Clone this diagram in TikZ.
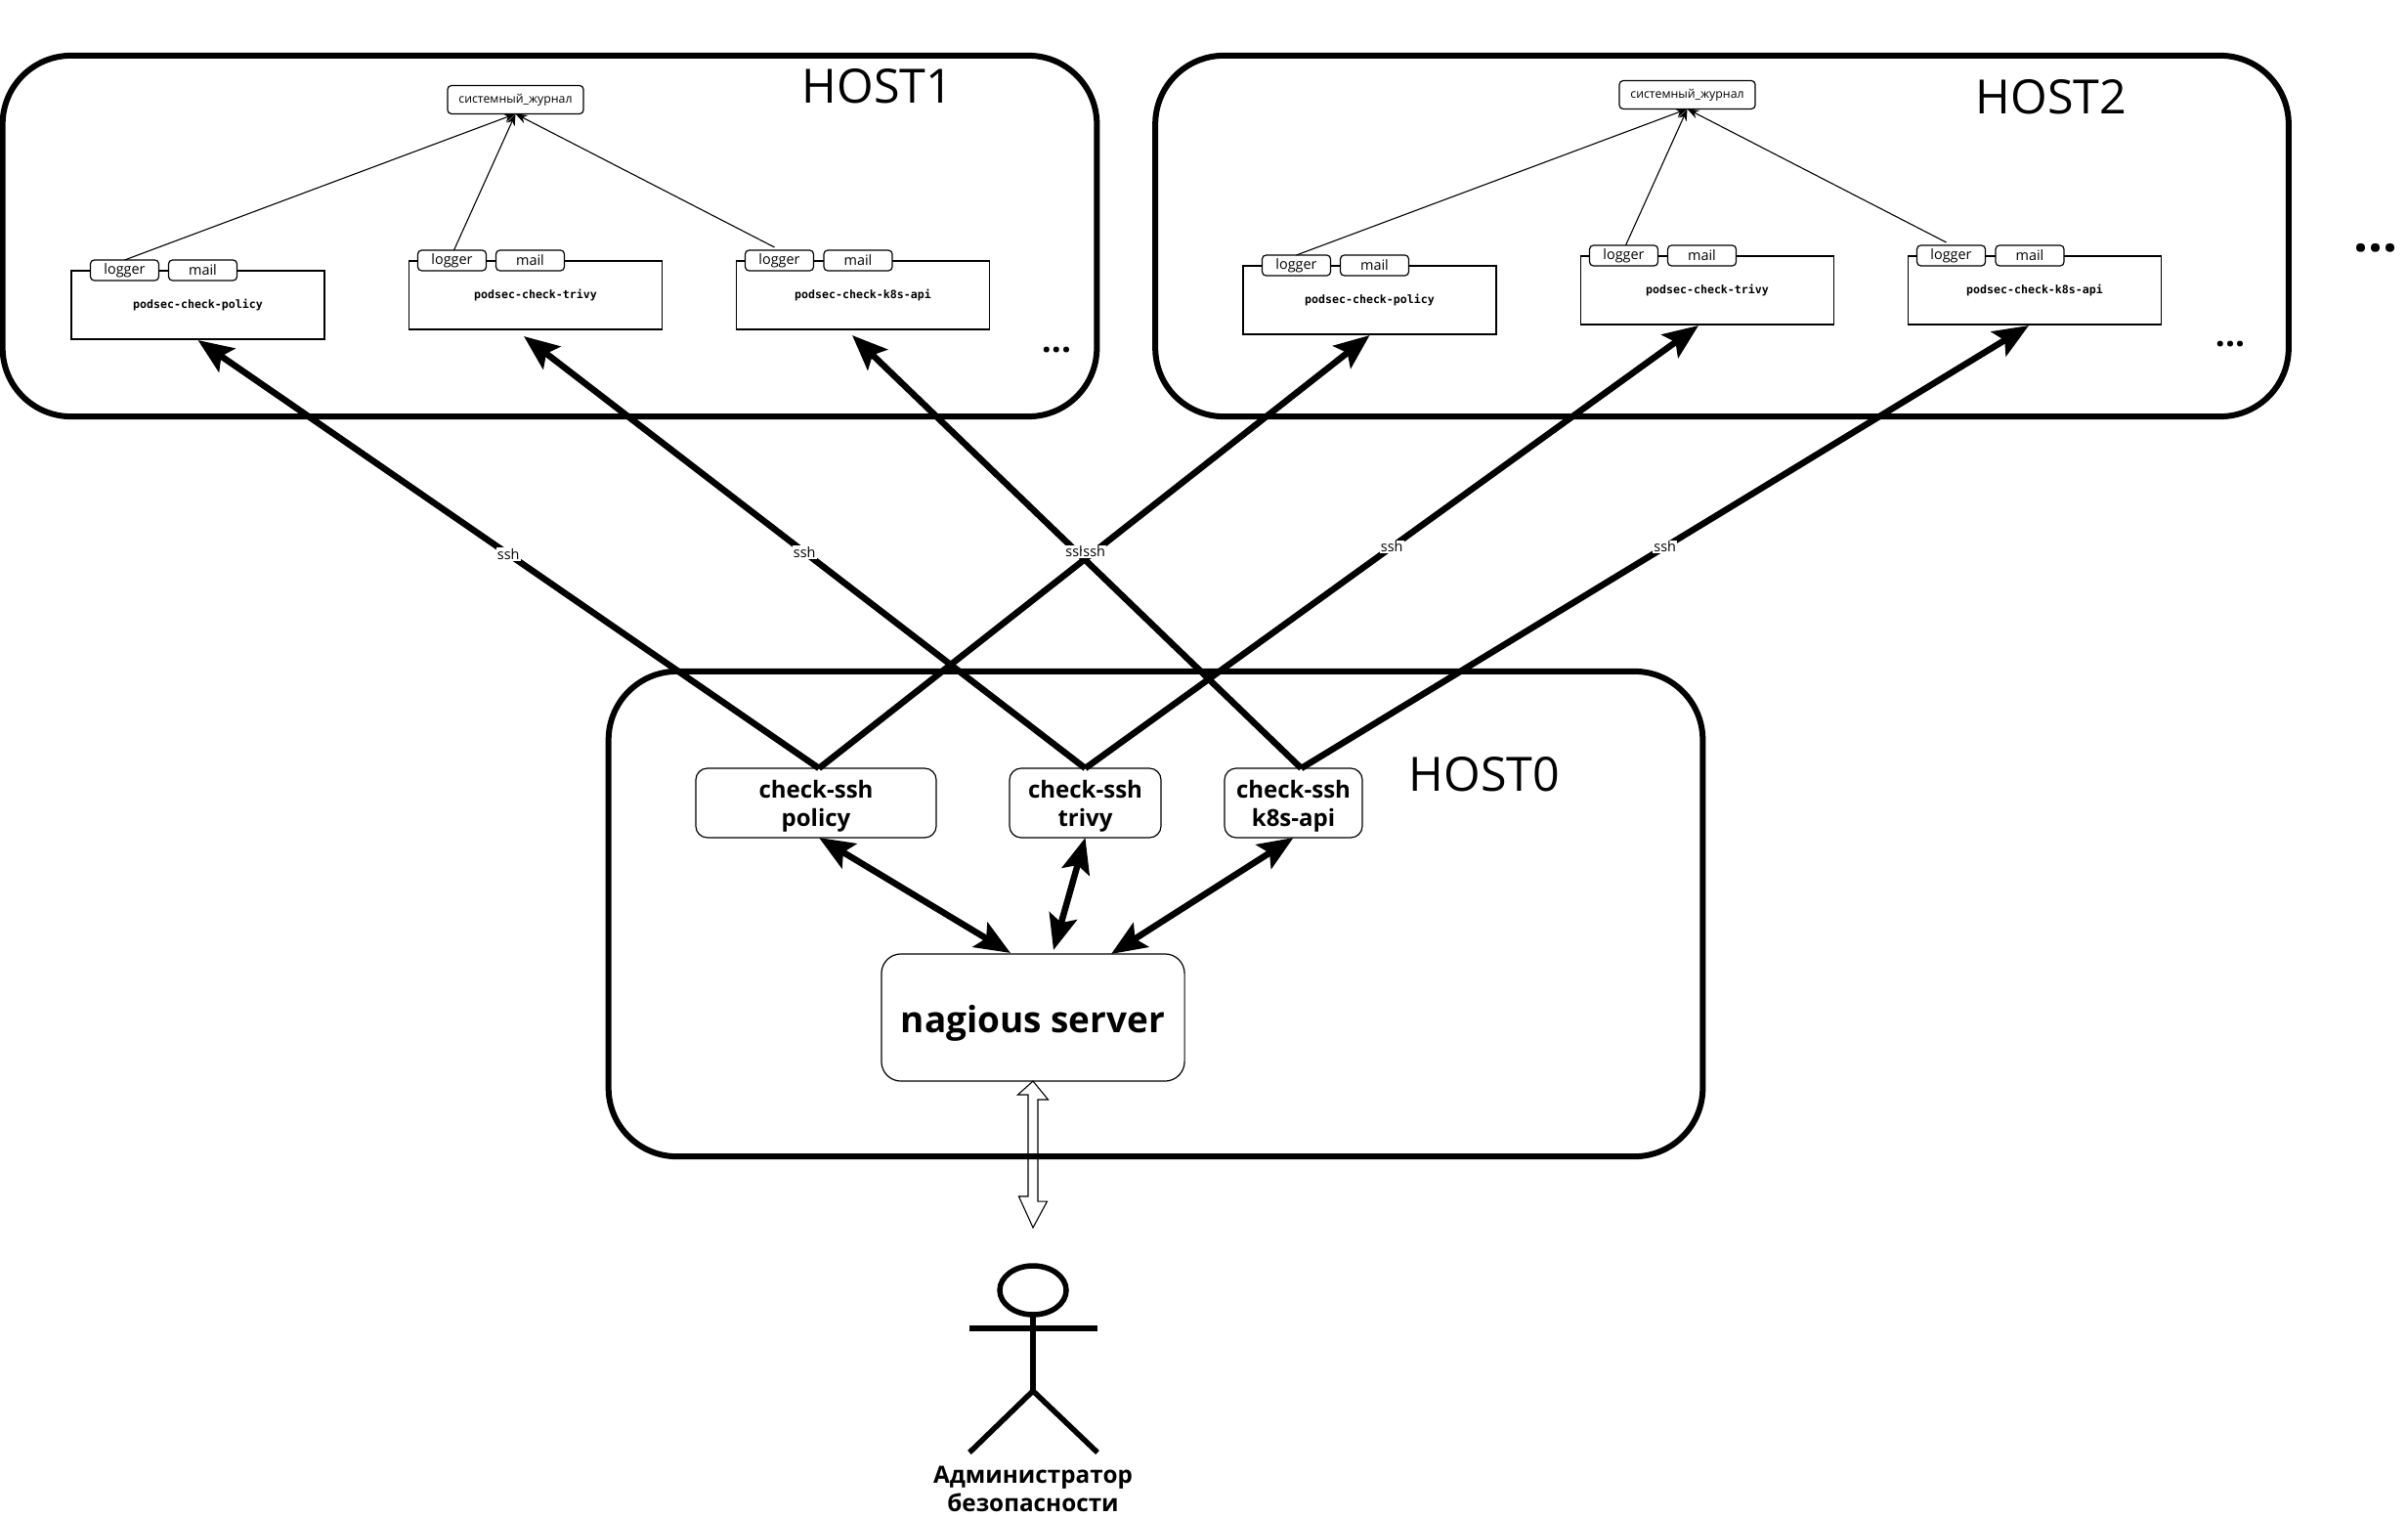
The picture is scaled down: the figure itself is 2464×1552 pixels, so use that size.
\documentclass[tikz,border=0pt]{standalone}
\usepackage{fontspec}
\setmainfont{Open Sans}
\setmonofont{DejaVu Sans Mono}
\usetikzlibrary{arrows.meta,calc}
\newcommand\nagdown[1]{\raisebox{-0.03cm}[\height][\depth]{#1}}
\newcommand\nagdownmore[1]{\raisebox{-0.055cm}[\height][\depth]{#1}}
\tikzset{
  every picture/.append style={line cap=butt,line join=miter},
  every node/.append style={outer sep=0pt,inner sep=0pt,align=center},
  nag host/.style={draw,line width=0.06cm,rounded corners=0.7cm},
  nag title/.style={font=\fontsize{13.75pt}{15pt}\selectfont},
  nag journal/.style={draw,fill=white,line width=0.012cm,rounded corners=0.04cm,minimum width=1.39cm,minimum height=0.29cm,font=\fontsize{3.5pt}{4pt}\selectfont},
  nag podsec/.style={draw,line width=0.012cm,minimum width=2.59cm,minimum height=0.70cm,font=\fontsize{3.3pt}{4pt}\selectfont\ttfamily\bfseries},
  nag tab/.style={draw,fill=white,line width=0.012cm,rounded corners=0.04cm,minimum width=0.70cm,minimum height=0.21cm,font=\fontsize{4.1pt}{5pt}\selectfont},
  nag check/.style={draw,line width=0.012cm,rounded corners=0.12cm,minimum height=0.71cm,font=\fontsize{6.83pt}{8.25pt}\selectfont\bfseries},
  nag server/.style={draw,line width=0.012cm,rounded corners=0.2cm,minimum width=3.10cm,minimum height=1.30cm,font=\fontsize{10.5pt}{12pt}\selectfont\bfseries},
  nag thin/.style={line width=0.011cm,-{Stealth[length=0.12cm,width=0.09cm]}},
  nag ssh/.style={line width=0.065cm,-{Stealth[length=0.36cm,width=0.29cm,inset=0.07cm]}},
  nag both/.style={line width=0.065cm,{Stealth[length=0.36cm,width=0.29cm,inset=0.07cm]}-{Stealth[length=0.36cm,width=0.29cm,inset=0.07cm]}},
  nag label/.style={fill=white,inner xsep=0.01cm,inner ysep=0.01cm,font=\fontsize{4.1pt}{4.5pt}\selectfont},
  nag dots/.style={font=\bfseries,anchor=base},
  nag actor/.style={line width=0.055cm}
}

\begin{document}
\begin{tikzpicture}[x=0.01cm,y=-0.01cm]
\useasboundingbox (0,0) rectangle (2464,1552);

\node[nag host,minimum width=11.19cm,minimum height=3.69cm] (host1) at (562.5,241.5) {};
\node[nag host,minimum width=11.59cm,minimum height=3.69cm] (host2) at (1762,241.5) {};
\node[nag host,minimum width=11.19cm,minimum height=4.96cm] (host0) at (1182.5,935) {};
\node[nag title] (title1) at (898,88) {HOST1};
\node[nag title] (title2) at (2099,99) {HOST2};
\node[nag title] (title0) at (1519,792) {HOST0};

% same content on both monitored hosts
\foreach \h/\dx/\dy in {1/0/0,2/1199/-5} {
  \begin{scope}[shift={(\dx,\dy)}]
    \node[nag journal] (journal\h) at (527.5,102) {системный\_журнал};
    \node[nag podsec] (policy\h) at (202.5,312) {podsec-check-policy};
    \node[nag podsec] (trivy\h) at (548,302) {podsec-check-trivy};
    \node[nag podsec] (kapi\h) at (883,302) {podsec-check-k8s-api};
    \node[nag tab] (policylog\h) at (127.5,276.5) {logger};
    \node[nag tab] (policymail\h) at (207.5,276.5) {mail};
    \node[nag tab] (trivylog\h) at (462.5,266.5) {logger};
    \node[nag tab] (trivymail\h) at (542.5,266.5) {mail};
    \node[nag tab] (kapilog\h) at (797.5,266.5) {logger};
    \node[nag tab] (kapimail\h) at (878,266.5) {mail};
    \draw[nag thin] (policylog\h.north) -- (journal\h.south);
    \draw[nag thin] ($(trivylog\h.north)+(2,0)$) -- (journal\h.south);
    \draw[nag thin] ($(kapilog\h.north)+(-5,-3)$) -- (journal\h.south);
  \end{scope}
}
\node[nag dots,font=\fontsize{10pt}{12pt}\selectfont\bfseries] (dots1) at (1081,361) {...};
\node[nag dots,font=\fontsize{10pt}{12pt}\selectfont\bfseries] (dots2) at (2282,355) {...};
\node[nag dots,font=\fontsize{15pt}{17pt}\selectfont\bfseries] (dots3) at (2431,258) {...};

\node[nag check,minimum width=2.46cm] (checkpolicy) at (835,821.5) {\nagdown{check-ssh}\\\nagdown{policy}};
\node[nag check,minimum width=1.55cm] (checktrivy) at (1110.5,821.5) {\nagdown{check-ssh}\\\nagdown{trivy}};
\node[nag check,minimum width=1.41cm] (checkkapi) at (1323.5,821.5) {\nagdown{check-ssh}\\\nagdown{k8s-api}};
\node[nag server] (server) at (1057,1041) {\nagdownmore{nagious server}};

\coordinate (srcpolicy) at ($(checkpolicy.north)+(3,0)$);
\coordinate (srckapi) at ($(checkkapi.north)+(8,0)$);

\draw[nag ssh] (srcpolicy) -- coordinate (mid1) ($(policy1.south)+(0,1)$);
\draw[nag ssh] (checktrivy.north) -- coordinate (mid2) ($(trivy1.south)+(-12,7)$);
\draw[nag ssh] (srckapi) -- coordinate (mid3) ($(kapi1.south)+(-11,6)$);
\draw[nag ssh] (srcpolicy) -- coordinate (mid4) ($(policy2.south)+(0,1)$);
\draw[nag ssh] (checktrivy.north) -- coordinate (mid5) ($(trivy2.south)+(-9,1)$);
\draw[nag ssh] (srckapi) -- coordinate (mid6) ($(kapi2.south)+(-6,1)$);
\foreach \i in {1,...,6} {
  \node[nag label] (ssh\i) at (mid\i) {ssh};
}

\draw[nag both] ($(checkpolicy.south)+(3,0)$) -- ($(server.north)+(-23,-1)$);
\draw[nag both] (checktrivy.south) -- ($(server.north)+(21,-4)$);
\draw[nag both] (checkkapi.south) -- ($(server.north)+(80,0)$);

% open double arrow, the border of host0 shows through it
\draw[line width=0.011cm] (server.south) -- ++(15.5,19) -- ++(-10.5,0) -- ++(0,104) -- ++(9.5,0) -- (1057,1256)
  -- ++(-14.5,-32) -- ++(9.5,0) -- ++(0,-104) -- ++(-10.5,0) -- cycle;

\draw[nag actor] (1057,1320) ellipse (34 and 25);
\draw[nag actor] (1057,1345) -- (1057,1423);
\draw[nag actor] (992,1359) -- (1123,1359);
\draw[nag actor] (992,1486) -- (1057,1423) -- (1123,1486);
\node[font=\fontsize{6.9pt}{8.25pt}\selectfont\bfseries] (admin) at (1057,1523) {Администратор\\безопасности};
\end{tikzpicture}
\end{document}
